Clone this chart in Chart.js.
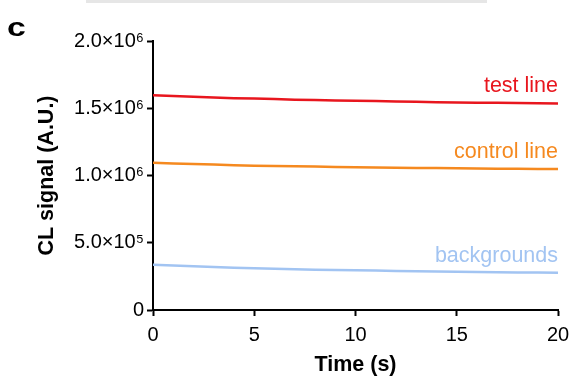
<!DOCTYPE html>
<html>
<head>
<meta charset="utf-8">
<script src="https://cdn.jsdelivr.net/npm/chart.js@4/dist/chart.umd.min.js"></script>
<style>
html,body{margin:0;padding:0;background:#fff;}
#wrap{width:572px;height:379px;position:relative;}
</style>
</head>
<body>
<div id="wrap"><canvas id="c" width="572" height="379"></canvas></div>
<script>
const timeS = [0,1,2,3,4,5,6,7,8,9,10,11,12,13,14,15,16,17,18,19,20];
const testLine = [1.597e6,1.592e6,1.586e6,1.580e6,1.575e6,1.572e6,1.568e6,1.564e6,1.561e6,1.558e6,1.556e6,1.553e6,1.551e6,1.548e6,1.545e6,1.543e6,1.541e6,1.540e6,1.539e6,1.537e6,1.536e6];
const controlLine = [1.094e6,1.090e6,1.085e6,1.081e6,1.077e6,1.073e6,1.070e6,1.068e6,1.066e6,1.064e6,1.062e6,1.060e6,1.058e6,1.056e6,1.055e6,1.053e6,1.052e6,1.051e6,1.050e6,1.049e6,1.048e6];
const backgrounds = [0.337e6,0.331e6,0.325e6,0.320e6,0.315e6,0.311e6,0.307e6,0.303e6,0.300e6,0.297e6,0.295e6,0.293e6,0.290e6,0.288e6,0.286e6,0.284e6,0.282e6,0.281e6,0.279e6,0.278e6,0.277e6];
const seriesNames = ["test line","control line","backgrounds"];
const seriesColors = ["#e8161e","#f5891f","#a2c4f2"];
const yTickLabels = {0:"0",500000:"5.0×10⁵",1000000:"1.0×10⁶",1500000:"1.5×10⁶",2000000:"2.0×10⁶"};
const xTickValues = [0,5,10,15,20];

const FONT = "'Liberation Sans', Arial, sans-serif";
const allSeries = [testLine, controlLine, backgrounds];

const decorPlugin = {
  id:'decor',
  beforeDraw(chart){
    const ctx = chart.ctx;
    ctx.save();
    ctx.fillStyle = '#e6e6e6';
    ctx.fillRect(86,0,401,3);
    ctx.fillStyle = '#000';
    ctx.font = "bold 26px " + FONT;
    ctx.textBaseline = 'alphabetic';
    ctx.translate(7, 36);
    ctx.scale(1.3, 1);
    ctx.fillText('c', 0, 0);
    ctx.restore();
  },
  afterDatasetsDraw(chart){
    const ctx = chart.ctx;
    const xs = chart.scales.x, ys = chart.scales.y;
    ctx.save();
    ctx.font = "21.5px " + FONT;
    ctx.textAlign = 'right';
    ctx.textBaseline = 'alphabetic';
    allSeries.forEach((s,i)=>{
      const last = s[s.length-1];
      ctx.fillStyle = seriesColors[i];
      ctx.fillText(seriesNames[i], xs.getPixelForValue(timeS[timeS.length-1]), ys.getPixelForValue(last) - 11);
    });
    ctx.restore();
  }
};

new Chart(document.getElementById('c'), {
  type:'line',
  data:{
    datasets: allSeries.map((s,i)=>({
      label: seriesNames[i],
      data: s.map((v,j)=>({x:timeS[j], y:v})),
      borderColor: seriesColors[i],
      borderWidth: 2.5,
      pointRadius: 0,
      tension: 0,
      fill:false
    }))
  },
  options:{
    responsive:false,
    animation:false,
    layout:{padding:{top:41,right:14,left:0,bottom:0}},
    plugins:{legend:{display:false},tooltip:{enabled:false}},
    scales:{
      x:{
        type:'linear', min:0, max:20,
        afterBuildTicks(scale){ scale.ticks = xTickValues.map(v=>({value:v})); },
        afterFit(scale){ scale.height = 69; scale.paddingRight = 0; scale.paddingLeft = 0; },
        border:{color:'#000',width:2},
        grid:{drawOnChartArea:false,drawTicks:true,tickLength:6,tickColor:'#000',tickWidth:2},
        ticks:{color:'#000',font:{family:FONT,size:20},padding:7,maxRotation:0},
        title:{display:true,text:'Time (s)',color:'#000',font:{family:FONT,size:21.5,weight:'bold'},padding:{top:0,bottom:1}}
      },
      y:{
        type:'linear', min:0, max:2000000,
        afterBuildTicks(scale){ scale.ticks = Object.keys(yTickLabels).map(v=>({value:+v})); },
        afterFit(scale){ scale.width = 153; scale.paddingTop = 0; scale.paddingBottom = 0; },
        border:{color:'#000',width:2},
        grid:{drawOnChartArea:false,drawTicks:true,tickLength:6,tickColor:'#000',tickWidth:2},
        ticks:{color:'#000',font:{family:FONT,size:20},padding:3,callback:(v)=>yTickLabels[v]},
        title:{display:true,text:'CL signal (A.U.)',color:'#000',font:{family:FONT,size:21.5,weight:'bold'},padding:{top:34,bottom:0}}
      }
    }
  },
  plugins:[decorPlugin]
});
</script>
</body>
</html>
